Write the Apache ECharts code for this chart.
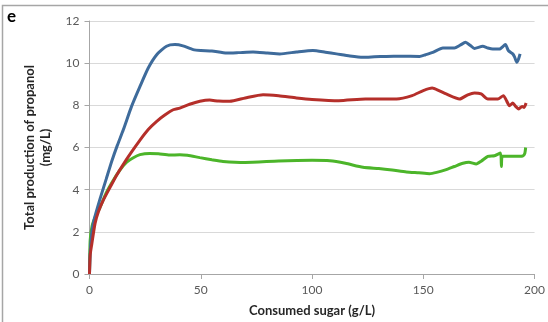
<!DOCTYPE html>
<html>
<head>
<meta charset="utf-8">
<script src="https://cdn.jsdelivr.net/npm/echarts@6/dist/echarts.min.js"></script>
<style>
  html, body { margin: 0; padding: 0; background: #fff; }
  #chart { width: 548px; height: 322px; }
</style>
</head>
<body>
<div id="chart"></div>
<script>
// Consumed sugar (g/L) vs. total propanol produced (mg/L), three cultures
var xTicks = [0, 50, 100, 150, 200];
var yTicks = [0, 2, 4, 6, 8, 10, 12];

var blueCurve = [
  [0, 0], [0.3, 1.0], [1, 1.9], [2, 2.55], [4.7, 3.55], [7.5, 4.5], [10, 5.35], [12.5, 6.1],
  [15.2, 6.84], [18.9, 7.95], [22.7, 8.9], [26.4, 9.77], [30.2, 10.4], [34.6, 10.8], [38.4, 10.88],
  [42, 10.82], [46.6, 10.64], [50, 10.6], [55, 10.58], [61.6, 10.48], [67, 10.5], [73.5, 10.53],
  [80, 10.48], [85.5, 10.44], [93, 10.53], [100.4, 10.6], [106, 10.52], [111, 10.44],
  [117, 10.34], [122.9, 10.28], [128, 10.3], [133.4, 10.32], [140, 10.33], [148.3, 10.32],
  [151, 10.4], [154.3, 10.51], [158.8, 10.72], [164, 10.72], [166.5, 10.85], [169, 10.99],
  [171, 10.85], [173, 10.7], [176.7, 10.8], [179, 10.72], [181.2, 10.67], [184.2, 10.67],
  [186.9, 10.88], [188.2, 10.6], [190.2, 10.44], [191, 10.3], [192, 10.04], [192.8, 10.2],
  [193.5, 10.44]
];

var redCurve = [
  [0, 0], [0.3, 0.9], [1, 1.4], [2.5, 2.4], [4, 2.95], [6.2, 3.5], [9.2, 4.1], [12, 4.65],
  [15.2, 5.2], [19, 5.8], [22.7, 6.35], [26.4, 6.85], [30.2, 7.24], [34, 7.55], [37.6, 7.79],
  [40.6, 7.87], [45, 8.05], [49.6, 8.19], [54, 8.25], [58, 8.2], [63, 8.19], [70, 8.35], [78, 8.5],
  [85, 8.45], [93, 8.35], [100, 8.28], [112, 8.22], [124, 8.3], [138, 8.3], [145, 8.46],
  [150, 8.7], [154, 8.82], [157, 8.7], [160.3, 8.54], [166.3, 8.3], [170, 8.5], [173, 8.59],
  [176, 8.54], [179, 8.3], [183.5, 8.3], [186, 8.46], [187.5, 8.2], [188.7, 7.98],
  [190.2, 8.11], [191.5, 7.95], [192.9, 7.83], [194.4, 7.95], [195.3, 7.9], [196.2, 8.11]
];

var greenCurve = [
  [0, 0], [0.3, 1.6], [1.2, 2.3], [3, 2.8], [4.7, 3.15], [7.5, 3.85], [10.7, 4.45], [13.5, 4.9],
  [16.7, 5.3], [19.5, 5.5], [22.7, 5.66], [27, 5.72], [31, 5.7], [36, 5.64], [40.6, 5.66],
  [44, 5.63], [49.6, 5.52], [55, 5.42], [60, 5.34], [70, 5.29], [85, 5.36], [100, 5.39],
  [108, 5.37], [115, 5.25], [122.9, 5.06], [130, 5.0], [136, 4.93], [142.4, 4.84],
  [148, 4.8], [152.8, 4.76], [156, 4.82], [160.3, 4.95], [164, 5.1], [167.8, 5.25],
  [170.5, 5.3], [173.8, 5.22], [176, 5.35], [179, 5.58], [182, 5.61], [184.7, 5.74],
  [185.1, 5.1], [185.5, 5.58], [190, 5.58], [194.7, 5.6], [195.6, 5.72], [196, 6.0]
];

var chart = echarts.init(document.getElementById('chart'), null, { renderer: 'canvas' });

var labelFont = 'Lato, "Open Sans", sans-serif';

function lineSeries(name, data, color) {
  return {
    name: name,
    type: 'line',
    data: data,
    showSymbol: false,
    smooth: 0.2,
    lineStyle: { color: color, width: 3 },
    itemStyle: { color: color },
    animation: false
  };
}

chart.setOption({
  backgroundColor: '#ffffff',
  animation: false,
  grid: { left: 89.5, right: 13, top: 21, bottom: 47.7, containLabel: false },
  graphic: [
    {
      type: 'rect',
      shape: { x: 2.5, y: 5.5, width: 560, height: 330 },
      style: { fill: 'none', stroke: '#a6a6a6', lineWidth: 1.5 },
      silent: true
    },
    {
      type: 'text',
      left: 7, top: 8,
      style: { text: 'e', font: 'bold 17px ' + labelFont, fill: '#000' }
    }
  ],
  xAxis: {
    type: 'value',
    min: xTicks[0], max: xTicks[xTicks.length - 1], interval: 50,
    name: 'Consumed sugar (g/L)',
    nameLocation: 'middle',
    nameGap: 30,
    nameTextStyle: { fontFamily: labelFont, fontWeight: 'bold', fontSize: 13, color: '#262626' },
    axisLine: { show: true, lineStyle: { color: '#a6a6a6', width: 1 } },
    axisTick: { show: true, inside: false, length: 5, lineStyle: { color: '#a6a6a6' } },
    axisLabel: { fontFamily: labelFont, fontSize: 12, color: '#595959', margin: 10 },
    splitLine: { show: false }
  },
  yAxis: {
    type: 'value',
    min: yTicks[0], max: yTicks[yTicks.length - 1], interval: 2,
    name: 'Total production of propanol\n(mg/L)',
    nameLocation: 'middle',
    nameGap: 36,
    nameRotate: 90,
    nameTextStyle: { fontFamily: labelFont, fontWeight: 'bold', fontSize: 13, color: '#262626', lineHeight: 16, align: 'center' },
    axisLine: { show: true, lineStyle: { color: '#a6a6a6', width: 1 } },
    axisTick: { show: true, inside: false, length: 5, lineStyle: { color: '#a6a6a6' } },
    axisLabel: { fontFamily: labelFont, fontSize: 12, color: '#595959', margin: 10 },
    splitLine: { show: true, lineStyle: { color: '#d9d9d9', width: 1 } }
  },
  series: [
    lineSeries('green', greenCurve, '#4cb52a'),
    lineSeries('blue', blueCurve, '#3e6b9b'),
    lineSeries('red', redCurve, '#b52f2a')
  ]
});
</script>
</body>
</html>
